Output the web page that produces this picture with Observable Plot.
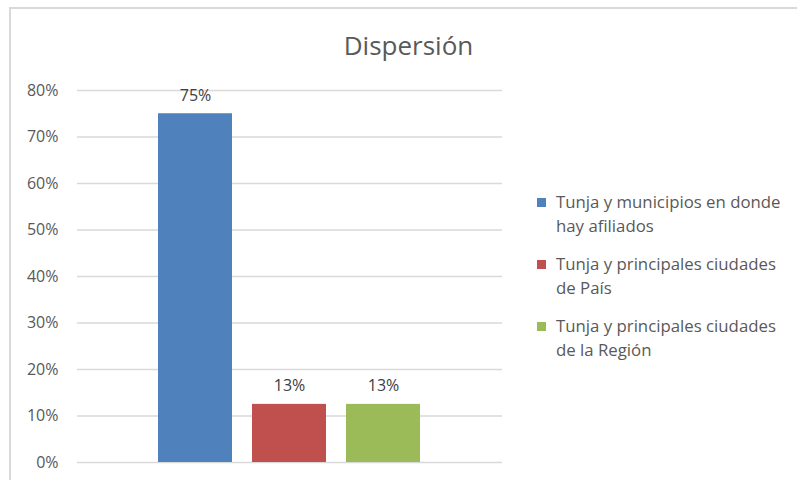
<!DOCTYPE html>
<html>
<head>
<meta charset="utf-8">
<script src="https://cdn.jsdelivr.net/npm/d3@7"></script>
<script src="https://cdn.jsdelivr.net/npm/@observablehq/plot@0.6"></script>
<style>
  html, body { margin: 0; padding: 0; background: #fff; overflow: hidden; }
  #wrap { position: relative; width: 797px; height: 480px; overflow: hidden; font-family: "Open Sans", sans-serif; }
  #frame { position: absolute; left: 9px; top: 7px; width: 900px; height: 600px; border: 2px solid #d9d9d9; box-sizing: border-box; }
  #title { position: absolute; left: 0; width: 817px; top: 27px; text-align: center; font-size: 26px; color: #595959; }
  #chart { position: absolute; left: 0; top: 0; }
  #legend { position: absolute; left: 537px; top: 190px; font-size: 16.8px; color: #595959; }
  .item { position: relative; padding-left: 19px; line-height: 24px; margin-bottom: 14px; }
  .sw { position: absolute; left: 0; top: 8px; width: 9px; height: 9px; }
</style>
</head>
<body>
<div id="wrap">
  <div id="frame"></div>
  <div id="chart"></div>
  <div id="title">Dispersión</div>
  <div id="legend"></div>
</div>
<script>
const categories = [
  "Tunja y municipios en donde hay afiliados",
  "Tunja y principales ciudades de País",
  "Tunja y principales ciudades de la Región"
];
const legendLines = [
  ["Tunja y municipios en donde", "hay afiliados"],
  ["Tunja y principales ciudades", "de País"],
  ["Tunja y principales ciudades", "de la Región"]
];
const values = [0.75, 0.125, 0.125];
const valueLabels = ["75%", "13%", "13%"];
const colors = ["#4f81bd", "#c0504d", "#9bbb59"];
const yTicks = [0, 0.1, 0.2, 0.3, 0.4, 0.5, 0.6, 0.7, 0.8];

const data = categories.map((c, i) => ({cat: c, value: values[i], label: valueLabels[i]}));

const chart = Plot.plot({
  width: 797,
  height: 480,
  marginLeft: 77,
  marginRight: 295,
  marginTop: 90,
  marginBottom: 18,
  style: {fontFamily: "Open Sans, sans-serif", fontSize: "16px", color: "#595959", background: "transparent"},
  x: {domain: categories, paddingInner: 0.21, paddingOuter: 0.854, axis: null},
  y: {domain: [0, 0.8], ticks: yTicks, tickFormat: d3.format(".0%"), label: null, tickSize: 0, tickPadding: 19},
  color: {domain: categories, range: colors},
  marks: [
    Plot.gridY(yTicks, {stroke: "#d9d9d9", strokeOpacity: 1, strokeWidth: 1.3}),
    Plot.barY(data, {x: "cat", y: "value", fill: "cat"}),
    Plot.text(data, {x: "cat", y: "value", text: "label", lineAnchor: "bottom", dy: -13, fill: "#404040", fontSize: 16})
  ]
});
document.getElementById("chart").appendChild(chart);

const legend = document.getElementById("legend");
legendLines.forEach((lines, i) => {
  const d = document.createElement("div");
  d.className = "item";
  const sw = document.createElement("span");
  sw.className = "sw";
  sw.style.background = colors[i];
  d.appendChild(sw);
  lines.forEach(l => { const s = document.createElement("div"); s.textContent = l; d.appendChild(s); });
  legend.appendChild(d);
});
</script>
</body>
</html>
